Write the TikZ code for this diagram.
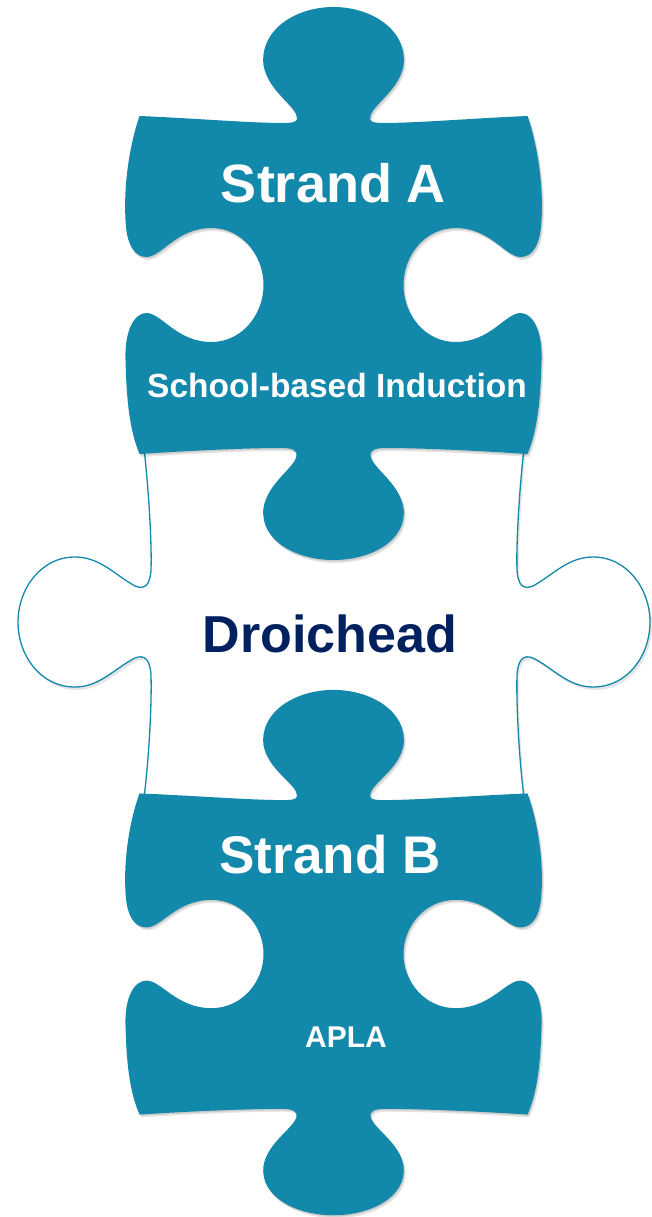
\documentclass[tikz,border=0pt]{standalone}
\usepackage{fontspec}
\setmainfont{Liberation Sans}
\definecolor{teal1}{RGB}{18,136,171}
\definecolor{navy1}{RGB}{0,32,96}
\newcommand{\piecepath}{
(-194,-169)
.. controls (-144,-167) and (-84,-162) .. (-50,-162)
.. controls (-38,-162) and (-35,-164) .. (-37,-169)
.. controls (-39,-180) and (-66,-195) .. (-70,-220)
.. controls (-74,-255) and (-38,-278) .. (0,-278)
.. controls (38,-278) and (74,-255) .. (70,-220)
.. controls (66,-195) and (39,-180) .. (37,-169)
.. controls (35,-164) and (38,-162) .. (50,-162)
.. controls (84,-162) and (144,-167) .. (194,-169)
.. controls (204,-140) and (210,-100) .. (208,-65)
.. controls (207,-40) and (199,-28) .. (187,-28)
.. controls (172,-28) and (157,-57) .. (122,-57)
.. controls (92,-57) and (70,-30) .. (70,0)
.. controls (70,30) and (92,57) .. (122,57)
.. controls (157,57) and (172,28) .. (187,28)
.. controls (199,28) and (209,45) .. (208,75)
.. controls (207,115) and (204,145) .. (194,169)
.. controls (150,166) and (90,163) .. (52,163)
.. controls (40,163) and (36,166) .. (37,171)
.. controls (39,183) and (66,198) .. (70,223)
.. controls (74,255) and (38,275) .. (0,275)
.. controls (-38,275) and (-74,255) .. (-70,223)
.. controls (-66,198) and (-39,183) .. (-37,171)
.. controls (-36,166) and (-40,163) .. (-52,163)
.. controls (-90,163) and (-150,166) .. (-194,169)
.. controls (-204,145) and (-207,115) .. (-208,75)
.. controls (-209,45) and (-199,28) .. (-187,28)
.. controls (-172,28) and (-157,57) .. (-122,57)
.. controls (-92,57) and (-70,30) .. (-70,0)
.. controls (-70,-30) and (-92,-57) .. (-122,-57)
.. controls (-157,-57) and (-172,-28) .. (-187,-28)
.. controls (-199,-28) and (-207,-40) .. (-208,-65)
.. controls (-210,-100) and (-204,-140) .. (-194,-169)
-- cycle}
\newcommand{\middlepath}{
(143,440)
.. controls (148,480) and (152,540) .. (151,570)
.. controls (150,585) and (145,590) .. (135,586)
.. controls (115,575) and (100,557) .. (75,557)
.. controls (40,557) and (18,590) .. (18,622)
.. controls (18,655) and (40,687) .. (75,687)
.. controls (100,687) and (115,668) .. (135,658)
.. controls (145,654) and (150,660) .. (151,675)
.. controls (152,710) and (148,770) .. (143,805)
-- (525,805)
.. controls (520,770) and (516,710) .. (517,675)
.. controls (518,660) and (523,654) .. (533,658)
.. controls (553,668) and (568,687) .. (593,687)
.. controls (628,687) and (650,655) .. (650,622)
.. controls (650,590) and (628,557) .. (593,557)
.. controls (568,557) and (553,575) .. (533,586)
.. controls (523,590) and (518,585) .. (517,570)
.. controls (516,540) and (520,480) .. (525,440)
-- cycle}
\tikzset{
  piecefill/.style={fill=teal1},
  shadowfill/.style={fill=black,opacity=0.10},
  midpiece/.style={fill=white,draw=teal1,line width=1.3pt},
  whitelabel/.style={text=white,font=\bfseries,inner sep=0pt,anchor=base},
  navylabel/.style={text=navy1,font=\bfseries,inner sep=0pt,anchor=base}
}
\begin{document}
\begin{tikzpicture}[x=1pt,y=-1pt]
\useasboundingbox (0,0) rectangle (651,1217);
\fill[white] (0,0) rectangle (651,1217);
% middle piece
\fill[shadowfill,shift={(2,3)}] \middlepath;
\path[midpiece] \middlepath;
% top piece
\begin{scope}[shift={(333.5,285)}]
  \fill[shadowfill,shift={(2,3)}] \piecepath;
  \fill[shadowfill,shift={(1,1.5)}] \piecepath;
  \path[piecefill] \piecepath;
\end{scope}
% bottom piece
\begin{scope}[shift={(333.5,954)},yscale=0.95]
  \fill[shadowfill,shift={(2,3)}] \piecepath;
  \fill[shadowfill,shift={(1,1.5)}] \piecepath;
  \path[piecefill] \piecepath;
\end{scope}
\node[whitelabel,font=\bfseries\fontsize{54}{60}\selectfont] (sa) at (333.5,203) {Strand A};
\node[whitelabel,font=\bfseries\fontsize{33.5}{38}\selectfont] (sbi) at (337,397) {School-based Induction};
\node[navylabel,font=\bfseries\fontsize{52}{60}\selectfont] (dr) at (330,652) {Droichead};
\node[whitelabel,font=\bfseries\fontsize{53}{60}\selectfont] (sb) at (330,873) {Strand B};
\node[whitelabel,font=\bfseries\fontsize{30}{36}\selectfont] (apla) at (346,1047) {APLA};
\end{tikzpicture}
\end{document}
